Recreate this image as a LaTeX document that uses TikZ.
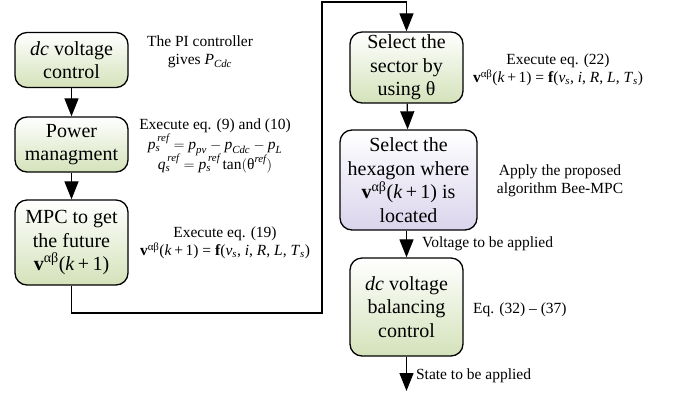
\documentclass[tikz,border=0pt]{standalone}
\usepackage{amsmath}
\usepackage{fontspec}
\setmainfont{Liberation Serif}
\usepackage{tikz}
\usetikzlibrary{arrows.meta}

\definecolor{boxgreen}{RGB}{212,226,186}
\definecolor{boxlilac}{RGB}{218,212,236}

\tikzset{
  block/.style={draw=black, line width=1.3pt, rounded corners=12pt,
    top color=white, bottom color=boxgreen, align=center, inner sep=0pt,
    minimum width=113pt, font=\fontsize{20}{23.5}\selectfont},
  note/.style={align=center, inner sep=0pt, font=\fontsize{15.5}{18}\selectfont},
  flow/.style={line width=1.2pt, -{Triangle[width=14pt,length=18pt]}}
}
\newcommand{\vab}{\textbf{v}\textsuperscript{αβ}(\textit{k}\,+\,1)}
\newcommand{\feq}{\vab\ = \textbf{f}(\textit{v}\textsubscript{\textit{s}}, \textit{i}, \textit{R}, \textit{L}, \textit{T}\textsubscript{\textit{s}})}

\begin{document}
\begin{tikzpicture}[x=1pt, y=-1pt]
    \useasboundingbox (0,0) rectangle (674,392);
    % left column
    \node [block, minimum height=55pt] (dcv) at (71.5,60) {\textit{dc} voltage\\control};
    \node [block, minimum height=55pt] (pow) at (71.5,144.5) {Power\\managment};
    \node [block, minimum height=85pt] (mpc) at (71.5,242.5) {MPC to get\\the future\\\vab};
    % right column
    \node [block, minimum height=71pt] (sec) at (406.5,67.5) {Select the\\sector by\\using θ};
    \node [block, bottom color=boxlilac, minimum width=137pt, minimum height=100pt] (hex) at (408.5,180)
        {Select the\\hexagon where\\\vab\ is\\located};
    \node [block, minimum height=98pt] (bal) at (406.5,307) {\textit{dc} voltage\\balancing\\control};

    % notes
    \node [note] (n1) at (200,52) {The PI controller\\gives $\textit{P}_{\textit{Cdc}}$};
    \node [note] (n2) at (215,146) {Execute eq. (9) and (10)\\
        $\textit{p}_{\textit{s}}^{\,\textit{ref}} = \textit{p}_{\textit{pv}} - \textit{p}_{\textit{Cdc}} - \textit{p}_{\textit{L}}$\\[-2pt]
        $\textit{q}_{\textit{s}}^{\,\textit{ref}} = \textit{p}_{\textit{s}}^{\,\textit{ref}}\,\mathrm{tan}(\text{θ}^{\textit{ref}})$};
    \node [note] (n3) at (225,243) {Execute eq. (19)\\\feq};
    \node [note] (n4) at (558,70) {Execute eq. (22)\\\feq};
    \node [note] (n5) at (560,181) {Apply the proposed\\algorithm Bee-MPC};
    \node [note, anchor=west] (n6) at (473,310) {Eq. (32) -- (37)};

    % connectors
    \draw [flow] (dcv) -- (pow);
    \draw [flow] (pow) -- (mpc);
    \coordinate (c1) at (322,313);
    \coordinate (c2) at (322,2);
    \draw [flow] (mpc.south) |- (c1) -- (c2) -| (sec.north);
    \draw [flow] (sec) -- (hex);
    \draw [flow] (hex.south -| bal.north) -- (bal.north)
        node [note, anchor=west, pos=0.5, xshift=15pt] (volt) {Voltage to be applied};
    \coordinate (out) at (406.5,391);
    \draw [flow] (bal.south) -- (out)
        node [note, anchor=west, pos=0.55, xshift=9pt] (state) {State to be applied};
\end{tikzpicture}
\end{document}
